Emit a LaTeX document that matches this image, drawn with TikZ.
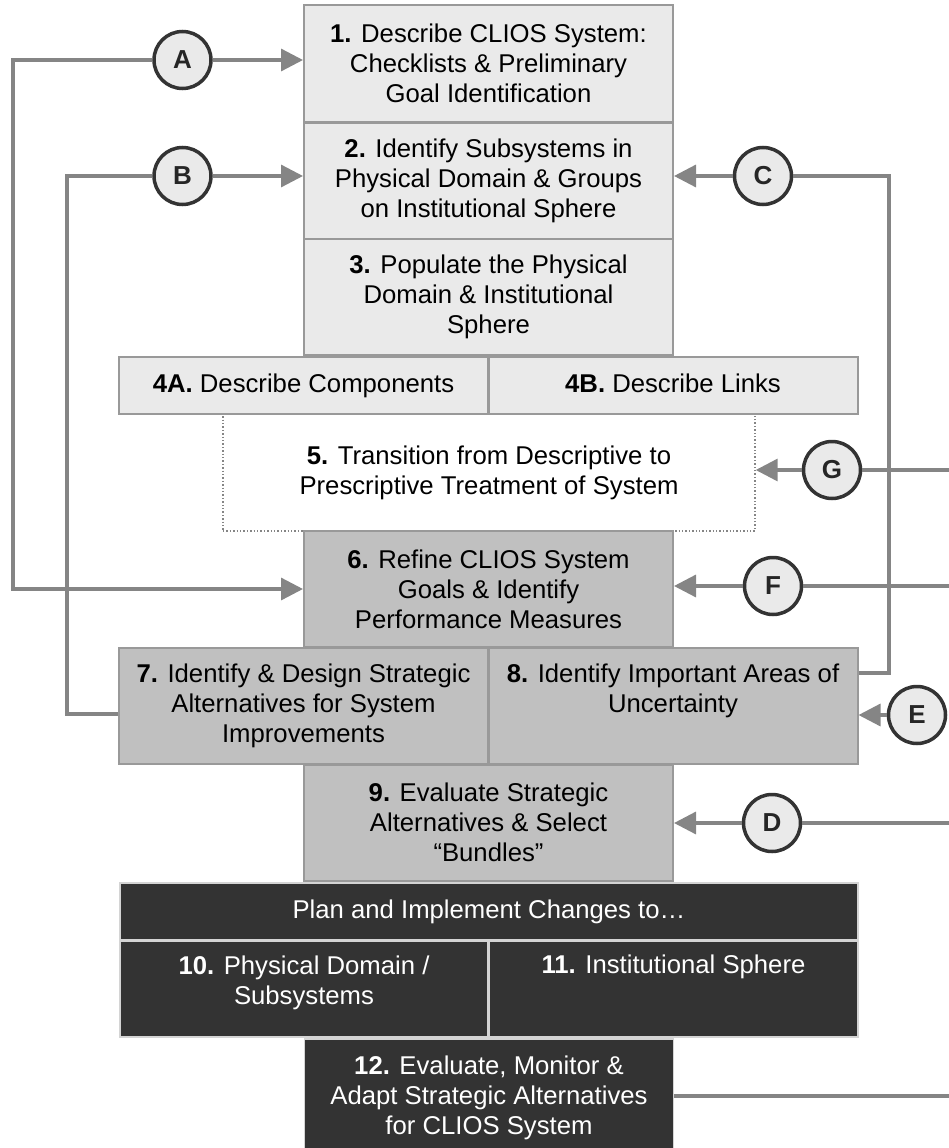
\documentclass[tikz,border=0pt]{standalone}
\usepackage{fontspec}
\setmainfont{Liberation Sans}
\usetikzlibrary{arrows.meta,calc}

\definecolor{lightfill}{HTML}{EAEAEA}
\definecolor{midfill}{HTML}{C0C0C0}
\definecolor{darkfill}{HTML}{333333}
\definecolor{edgegray}{HTML}{999999}
\definecolor{darkedge}{HTML}{D4D4D4}
\definecolor{flowgray}{HTML}{858585}
\definecolor{ringgray}{HTML}{333333}

\begin{document}
\begin{tikzpicture}[x=1pt,y=-1pt,
  every node/.style={font=\fontsize{25.7}{30}\selectfont, inner sep=0pt, align=center},
  box/.style={rectangle, draw=edgegray, line width=2pt, minimum width=369pt, minimum height=116pt},
  lightbox/.style={box, fill=lightfill},
  midbox/.style={box, fill=midfill},
  onerow/.style={minimum height=57pt, text height=19pt, text depth=5.5pt},
  darkbox/.style={box, draw=darkedge, line width=1.6pt, fill=darkfill, text=white},
  darktext/.style={text=white},
  transbox/.style={rectangle, draw=flowgray, line width=1.4pt, dotted, fill=white,
    minimum width=532pt, minimum height=117pt},
  ring/.style={circle, draw=ringgray, line width=3.5pt, fill=lightfill,
    minimum size=57pt, font=\fontsize{26}{30}\selectfont\bfseries, text=black!85},
  flow/.style={draw=flowgray, line width=3.3pt},
  arrowflow/.style={flow, -{Triangle[length=22pt,width=22pt]}}]

\useasboundingbox (0,0) rectangle (949,1148);
\clip (0,0) rectangle (949,1148);

% descriptive steps
\node[lightbox] (b1) at (488.5,63.5)
  {\textbf{1.} Describe CLIOS System:\\Checklists \& Preliminary\\Goal Identification};
\node[lightbox] (b2) at (488.5,180.5)
  {\textbf{2.} Identify Subsystems in\\Physical Domain \& Groups\\on Institutional Sphere};
\node[lightbox] (b3) at (488.5,297)
  {\textbf{3.} Populate the Physical\\Domain \& Institutional\\Sphere};

% transition (dotted) behind the neighbouring boxes
\node[transbox] (b5) at (489,472.5)
  {\textbf{5.} Transition from Descriptive to\\Prescriptive Treatment of System};

\node[lightbox, onerow] (b4a) at (303.5,385.5) {\textbf{4A.} Describe Components};
\node[lightbox, onerow] (b4b) at (673,385.5) {\textbf{4B.} Describe Links};

% prescriptive steps
\node[midbox] (b6) at (488.5,589)
  {\textbf{6.} Refine CLIOS System\\Goals \& Identify\\Performance Measures};
\node[midbox] (b7) at (303.5,706)
  {\textbf{7.} Identify \& Design Strategic\\Alternatives for System\\Improvements};
\node[midbox] (b8) at (673,706)
  {\textbf{8.} Identify Important Areas of\\Uncertainty\\\vphantom{Ip}};
\node[midbox] (b9) at (488.5,822.5)
  {\textbf{9.} Evaluate Strategic\\Alternatives \& Select\\“Bundles”};

% implementation steps
\node[darkbox, onerow, minimum width=738pt] (plan) at (489,911.5)
  {Plan and Implement Changes to…};
\node[darkbox, minimum width=368pt, minimum height=96pt] (b10) at (304,989) {};
\node[darkbox, minimum width=369pt, minimum height=96pt] (b11) at (673.5,989) {};
\node[darktext] (t10) at (304,983) {\textbf{10.} Physical Domain /\\Subsystems};
\node[darktext] (t11) at (673.5,967) {\textbf{11.} Institutional Sphere};
\node[darkbox, minimum height=117pt] (b12) at (489,1097.5)
  {\textbf{12.} Evaluate, Monitor \&\\Adapt Strategic Alternatives\\for CLIOS System};

% feedback markers
\node[ring] (A) at (182.5,60) {A};
\node[ring] (B) at (182.5,176) {B};
\node[ring] (C) at (763,176) {C};
\node[ring] (G) at (832,470) {G};
\node[ring] (F) at (773,586) {F};
\node[ring] (E) at (917,715) {E};
\node[ring] (D) at (772,823) {D};

% turning points of the loops
\coordinate (aleft) at (13,60);
\coordinate (bleft) at (67,176);
\coordinate (cright) at (889,673);
\coordinate (gin) at (960,470);
\coordinate (fin) at (960,586);
\coordinate (din) at (960,823);
\coordinate (out12) at (960,1096);

% loop A: back to steps 1 and 6
\draw[arrowflow] (A) -- (b1.west |- A);
\draw[arrowflow] (A) -- (aleft) |- (b6.west);

% loop B: from step 7 back to step 2
\draw[flow] (b7.west |- 0,714) -| (bleft) -- (B);
\draw[arrowflow] (B) -- (b2.west |- B);

% loop C: from step 8 back to step 2
\draw[flow] (cright -| b8.east) -- (cright) |- (C);
\draw[arrowflow] (C) -- (b2.east |- C);

% incoming loops from the right
\draw[flow] (gin) -- (G);
\draw[arrowflow] (G) -- (b5.east |- G);
\draw[flow] (fin) -- (F);
\draw[arrowflow] (F) -- (b6.east |- F);
\draw[arrowflow] (E) -- (b8.east |- E);
\draw[flow] (din) -- (D);
\draw[arrowflow] (D) -- (b9.east |- D);

% outgoing line from step 12
\draw[flow] (b12.east |- out12) -- (out12);

\end{tikzpicture}
\end{document}
